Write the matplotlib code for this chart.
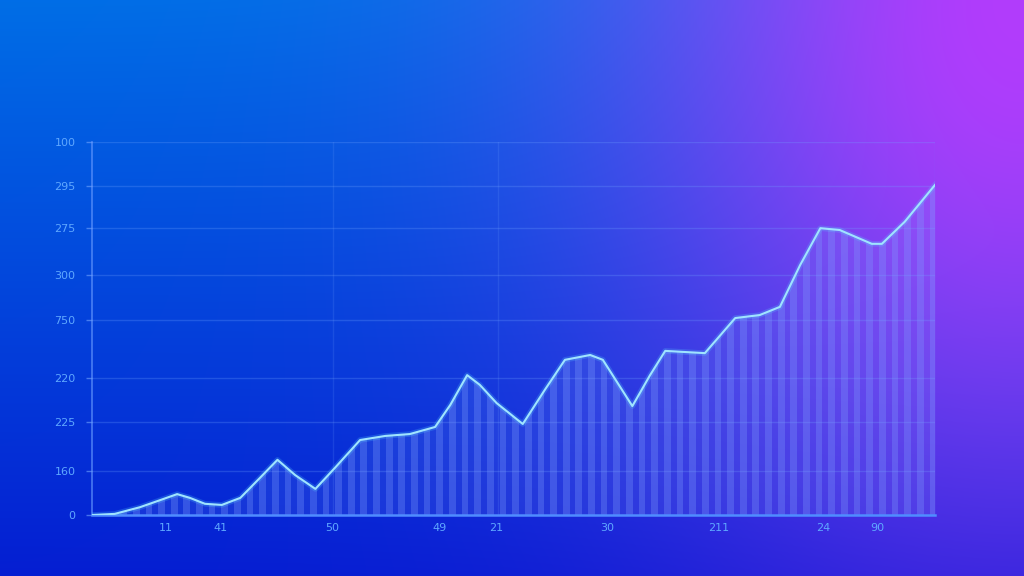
import numpy as np
import matplotlib
matplotlib.use("Agg")
import matplotlib.pyplot as plt

# curve (x in 0-100 plot units, y in 0-100 plot units)
line_x = [0, 2.7, 5.7, 8.1, 10.1, 11.6, 13.4, 15.4, 17.6, 19.9, 22.0, 24.1,
          26.5, 28.8, 31.8, 34.8, 37.7, 40.7, 42.5, 44.5, 46.0, 48.0, 51.1,
          53.7, 56.1, 59.1, 60.6, 64.1, 66.2, 68.0, 70.3, 72.7, 76.3, 79.2,
          81.6, 84.0, 86.4, 88.7, 92.5, 93.7, 96.4, 100]
line_y = [0, 0.3, 2.1, 4.0, 5.6, 4.6, 3.0, 2.7, 4.6, 9.9, 14.8, 10.7,
          7.0, 12.6, 20.1, 21.2, 21.7, 23.6, 29.5, 37.5, 34.9, 30.0, 24.4,
          33.5, 41.6, 42.9, 41.6, 29.2, 37.5, 44.0, 43.7, 43.4, 52.8, 53.6,
          55.8, 67.0, 76.9, 76.4, 72.7, 72.7, 78.6, 88.5]

ytick_pos = [100, 88.2, 76.9, 64.3, 52.3, 36.7, 24.9, 11.8, 0]
ytick_labels = ['100', '295', '275', '300', '750', '220', '225', '160', '0']
xtick_pos = [8.7, 15.3, 28.5, 41.2, 47.9, 61.1, 74.3, 86.7, 93.1]
xtick_labels = ['11', '41', '50', '49', '21', '30', '211', '24', '90']

W, H = 1024, 576
fig = plt.figure(figsize=(W / 100, H / 100), dpi=100)

# background: blue base, purple glow from the top-right corner
bg = fig.add_axes([0, 0, 1, 1], zorder=-10)
top = np.array([0, 110, 230]) / 255
bot = np.array([5, 30, 210]) / 255
purple = np.array([178, 60, 252]) / 255
u = np.linspace(0, 1, 512)[None, :]
v = np.linspace(0, 1, 288)[:, None]
base = (1 - v)[..., None] * top + v[..., None] * bot
d2 = ((1 - u) * 1.78 / 0.70) ** 2 + (v / 0.95) ** 2
w = np.exp(-d2)[..., None]
img = (1 - w) * base + w * purple
bg.imshow(img, aspect='auto', extent=[0, 1, 0, 1], interpolation='bilinear')
bg.axis('off')

ax = fig.add_axes([92 / W, (H - 515) / H, 843 / W, 373 / H])
ax.set_facecolor('none')
ax.set_xlim(0, 100)
ax.set_ylim(0, 100)

grid_c = (0.45, 0.65, 1.0, 0.25)
for y in ytick_pos[:-1]:
    ax.axhline(y, color=grid_c, lw=1, zorder=1)
for x in [28.6, 48.2, 100]:
    ax.axvline(x, color=(0.45, 0.65, 1.0, 0.16), lw=1, zorder=1)

# area under the curve with vertical stripes
fill = ax.fill_between(line_x, line_y, 0, color=(0.55, 0.65, 1.0, 0.12),
                       lw=0, zorder=2)
clip = fill.get_paths()[0]
stripe_x = np.arange(0.75, 100, 1.5)
bars = ax.bar(stripe_x, 100, width=0.8, color=(0.5, 0.62, 1.0, 0.30),
              lw=0, zorder=2)
for b in bars:
    b.set_clip_path(clip, ax.transData)

ax.plot(line_x, line_y, color='#5ad2ff', lw=4, alpha=0.22, zorder=3,
        solid_joinstyle='round')
ax.plot(line_x, line_y, color='#9fe4ff', lw=1.5, zorder=4,
        solid_joinstyle='round')

ax.set_yticks(ytick_pos)
ax.set_yticklabels(ytick_labels)
ax.set_xticks(xtick_pos)
ax.set_xticklabels(xtick_labels)
lab_c = '#5fa8ff'
ax.tick_params(axis='y', colors=(0.45, 0.65, 1.0, 0.6), labelcolor=lab_c,
               length=4, width=1, pad=8, labelsize=8)
ax.tick_params(axis='x', length=0, pad=6, labelcolor=lab_c, labelsize=8)

for s in ['top', 'right']:
    ax.spines[s].set_visible(False)
ax.spines['left'].set_color((0.4, 0.6, 1.0, 0.7))
ax.spines['left'].set_linewidth(1.2)
ax.spines['bottom'].set_color('#4f8cff')
ax.spines['bottom'].set_linewidth(1.8)

fig.savefig('out.png', dpi=100)
